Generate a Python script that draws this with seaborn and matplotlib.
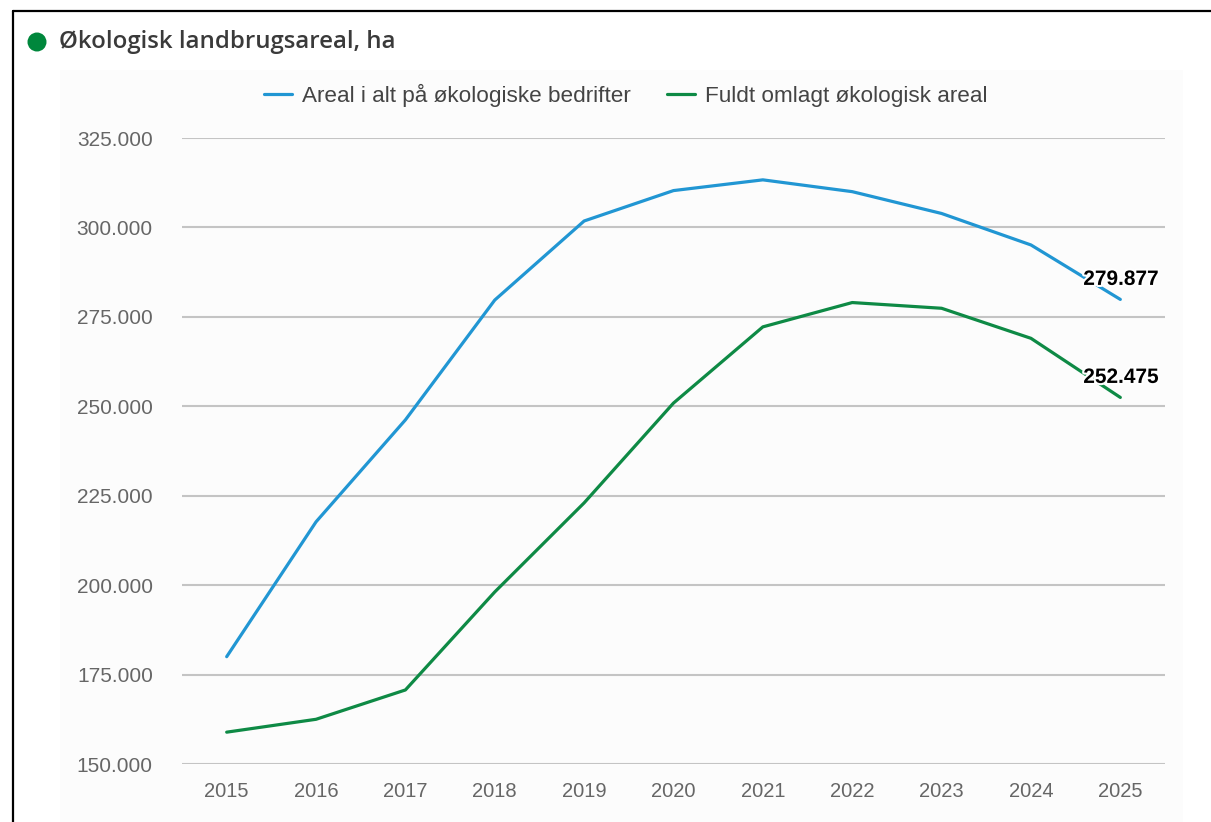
import pandas as pd
import matplotlib.pyplot as plt
import matplotlib.patheffects as pe
from matplotlib.lines import Line2D
from matplotlib.patches import Rectangle, Ellipse
import seaborn as sns

# data
years = [2015, 2016, 2017, 2018, 2019, 2020, 2021, 2022, 2023, 2024, 2025]
areal_i_alt = [180000, 217700, 246200, 279700, 301800, 310300, 313300, 310000, 303900, 295100, 279877]
fuldt_omlagt = [158900, 162500, 170700, 198100, 223000, 250900, 272200, 279000, 277400, 269000, 252475]
series_names = ["Areal i alt på økologiske bedrifter", "Fuldt omlagt økologisk areal"]
y_ticks = [150000, 175000, 200000, 225000, 250000, 275000, 300000, 325000]
colors = ["#2196d3", "#0e8a45"]

df = pd.concat([
    pd.DataFrame({"year": years, "value": areal_i_alt, "series": series_names[0]}),
    pd.DataFrame({"year": years, "value": fuldt_omlagt, "series": series_names[1]}),
])

sns.set_style("white")
plt.rcParams["font.family"] = ["Liberation Sans", "DejaVu Sans"]

fig = plt.figure(figsize=(12.11, 8.22), dpi=100)
fig.patch.set_facecolor("white")

# faint panel behind the chart
fig.add_artist(Rectangle((60 / 1211, 0), 1123 / 1211, 1 - 70 / 822, transform=fig.transFigure,
                         facecolor="#fcfcfc", edgecolor="none", zorder=0))

# frame (left and top only)
fig.add_artist(Line2D([13 / 1211, 13 / 1211], [0, 1 - 11 / 822], transform=fig.transFigure, color="black", lw=1.6))
fig.add_artist(Line2D([13 / 1211, 1], [1 - 11 / 822, 1 - 11 / 822], transform=fig.transFigure, color="black", lw=1.6))

# title with green dot
fig.add_artist(Ellipse((37 / 1211, 1 - 42 / 822), 19 / 1211, 19 / 822, transform=fig.transFigure,
                       facecolor="#00873c", edgecolor="none"))
fig.text(59 / 1211, 1 - 42 / 822, "Økologisk landbrugsareal, ha", fontsize=17.3, fontweight="semibold",
         family=["Open Sans", "DejaVu Sans"], color="#3a3a3a", va="center", ha="left")

ax = fig.add_axes([182 / 1211, 1 - 764 / 822, (1165 - 182) / 1211, (764 - 138) / 822])
ax.set_facecolor("none")

sns.lineplot(data=df, x="year", y="value", hue="series", palette=colors, linewidth=2.3, ax=ax, legend=False)

ax.set_xlim(2014.5, 2025.5)
ax.set_ylim(150000, 325000)
ax.set_xticks(years)
ax.set_yticks(y_ticks)
ax.set_yticklabels([f"{v:,}".replace(",", ".") for v in y_ticks])
ax.tick_params(axis="y", length=0, pad=21, labelsize=15, labelcolor="#666666")
ax.tick_params(axis="x", length=0, pad=13, labelsize=14.5, labelcolor="#666666")
ax.set_xlabel("")
ax.set_ylabel("")
ax.grid(axis="y", color="#c4c4c4", linewidth=1.5)
ax.set_axisbelow(True)
for s in ax.spines.values():
    s.set_visible(False)

# end labels
for vals in [areal_i_alt, fuldt_omlagt]:
    ax.annotate(f"{vals[-1]:,}".replace(",", "."), xy=(years[-1], vals[-1]), xytext=(-37, 20),
                textcoords="offset pixels", fontsize=15, fontweight="bold", color="black",
                ha="left", va="center",
                path_effects=[pe.withStroke(linewidth=3, foreground="white")])

handles = [Line2D([], [], color=c, lw=2.3) for c in colors]
fig.legend(handles, series_names, loc="center", bbox_to_anchor=(626 / 1211, 1 - 95 / 822), ncol=2,
           frameon=False, fontsize=16.2, handlelength=1.25, handletextpad=0.45, columnspacing=1.6,
           labelcolor="#444444")

plt.savefig("out.png", dpi=100)
